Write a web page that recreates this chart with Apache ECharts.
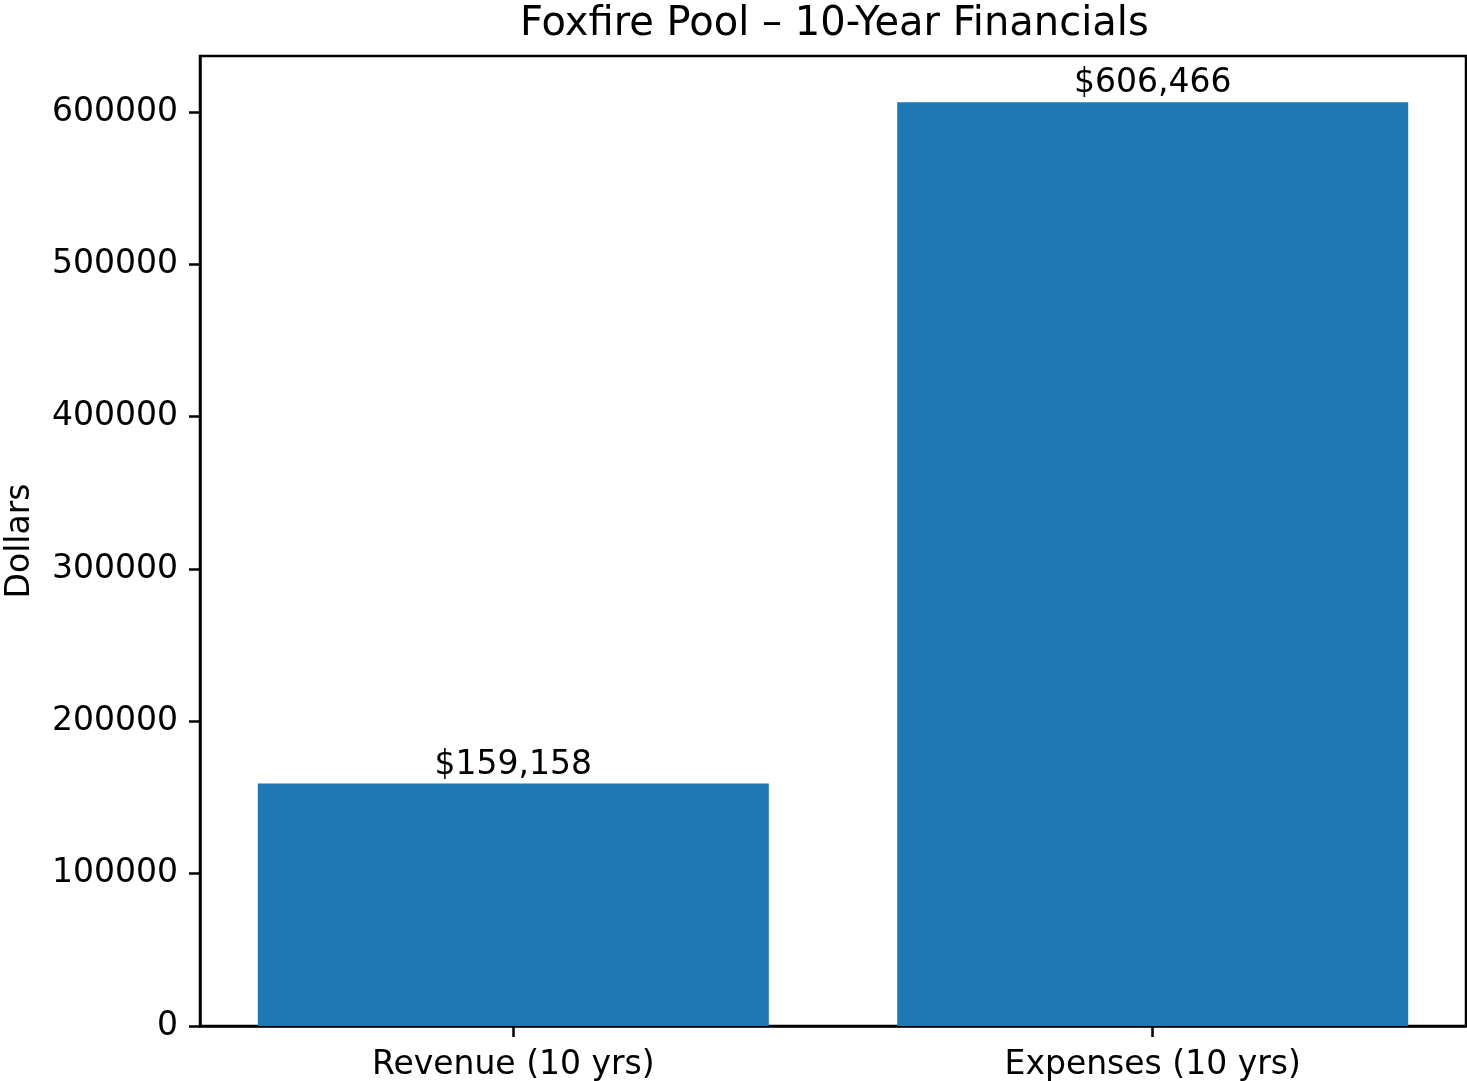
<!DOCTYPE html>
<html>
<head>
<meta charset="utf-8">
<script src="https://cdn.jsdelivr.net/npm/echarts@6/dist/echarts.min.js"></script>
<style>
    html, body { margin: 0; padding: 0; background: #fff; }
    #chart { width: 1467px; height: 1081px; }
</style>
</head>
<body>
<div id="chart"></div>
<script>
// data
var categories = ['Revenue (10 yrs)', 'Expenses (10 yrs)'];
var totals = [159158, 606466];
var yTicks = [0, 100000, 200000, 300000, 400000, 500000, 600000];
var yMax = 636789;

var font = 'DejaVu Sans';
var chart = echarts.init(document.getElementById('chart'));

chart.setOption({
    animation: false,
    title: {
        text: 'Foxfire Pool \u2013 10-Year Financials',
        left: 515,
        top: 0,
        textStyle: { fontFamily: font, fontSize: 40, fontWeight: 'normal', color: '#000' }
    },
    grid: {
        left: 200, top: 56, width: 1266, height: 970,
        outerBoundsMode: 'none',
        containLabel: false,
        show: true, borderColor: '#000', borderWidth: 2.5, backgroundColor: 'transparent'
    },
    xAxis: {
        type: 'value',
        min: -0.49,
        max: 1.49,
        splitLine: { show: false },
        axisLine: { onZero: false, lineStyle: { color: '#000', width: 2.5 } },
        axisTick: { customValues: [0, 1], length: 11, lineStyle: { color: '#000', width: 2.5 } },
        axisLabel: {
            customValues: [0, 1],
            margin: 23,
            fontFamily: font, fontSize: 33, color: '#000',
            formatter: function (v) { return categories[Math.round(v)]; }
        }
    },
    yAxis: {
        type: 'value',
        min: 0,
        max: yMax,
        name: 'Dollars',
        nameLocation: 'middle',
        nameGap: 163,
        nameRotate: 90,
        nameTextStyle: { fontFamily: font, fontSize: 33, color: '#000' },
        splitLine: { show: false },
        axisLine: { show: true, onZero: false, lineStyle: { color: '#000', width: 2.5 } },
        axisTick: { show: true, customValues: yTicks, length: 11, lineStyle: { color: '#000', width: 2.5 } },
        axisLabel: {
            customValues: yTicks,
            margin: 22,
            fontFamily: font, fontSize: 33, color: '#000',
            formatter: function (v) { return String(v); }
        }
    },
    series: [{
        type: 'bar',
        barWidth: 511,
        itemStyle: { color: '#1f77b4' },
        label: {
            show: true,
            position: 'top',
            distance: 2,
            fontFamily: font, fontSize: 33, color: '#000',
            formatter: function (p) { return '$' + p.value[1].toLocaleString('en-US'); }
        },
        data: totals.map(function (v, i) { return [i, v]; })
    }]
});
</script>
</body>
</html>
